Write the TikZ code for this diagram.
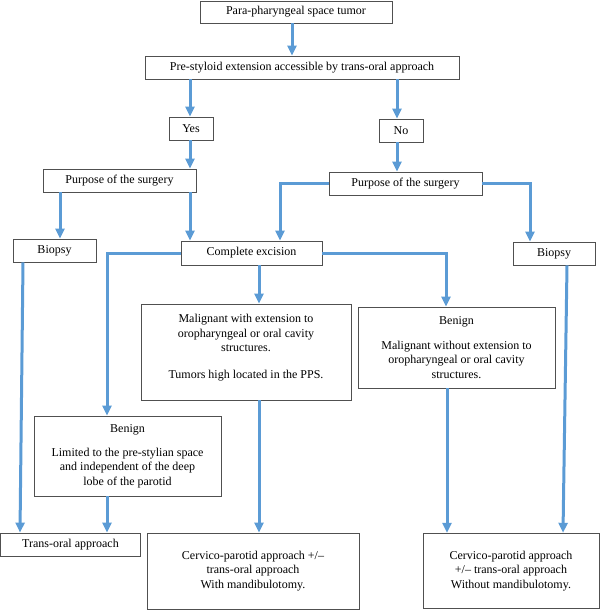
\documentclass[tikz,border=0pt]{standalone}
\usepackage{fontspec}
\setmainfont{Liberation Serif}
\usetikzlibrary{arrows.meta}
\definecolor{flow}{HTML}{5B9BD5}
\definecolor{edge}{HTML}{505050}
\begin{document}
\begin{tikzpicture}[x=1pt,y=-1pt,
  box/.style={draw=edge,line width=0.9pt,inner sep=0pt,align=center,font=\fontsize{12}{14.5}\selectfont},
  arr/.style={draw=flow,line width=3pt,-{Triangle[width=9pt,length=10pt]}}]
\useasboundingbox (0,0) rectangle (600,610);
% nodes
\node[box,minimum width=192pt,minimum height=22pt] (top) at (296,12) {Para-pharyngeal space tumor};
\node[box,minimum width=314pt,minimum height=23pt] (pre) at (302,67.5) {Pre-styloid extension accessible by trans-oral approach};
\node[box,minimum width=44pt,minimum height=23pt] (yes) at (191,128.5) {Yes};
\node[box,minimum width=44pt,minimum height=23pt] (no) at (401,130.5) {No};
\node[box,minimum width=153pt,minimum height=23pt] (p1) at (119.5,180.5) {Purpose of the surgery};
\node[box,minimum width=153pt,minimum height=23pt] (p2) at (405.5,183.5) {Purpose of the surgery};
\node[box,minimum width=83pt,minimum height=23pt] (b1) at (54.5,250.5) {Biopsy};
\node[box,minimum width=141pt,minimum height=24pt] (ce) at (251.5,253) {Complete excision};
\node[box,minimum width=82pt,minimum height=23pt] (b2) at (554,253.5) {Biopsy};
\node[box,minimum width=210pt,minimum height=96pt] (mw) at (246,352) {Malignant with extension to\\ oropharyngeal or oral cavity\\ structures.\\[12.5pt] Tumors high located in the PPS.\\[-4pt]\mbox{}};
\node[box,minimum width=197pt,minimum height=81pt] (br) at (456.5,347.5) {Benign\\[10.5pt] Malignant without extension to\\ oropharyngeal or oral cavity\\ structures.};
\node[box,minimum width=187pt,minimum height=80pt] (bl) at (127.5,456) {Benign\\[9.5pt] Limited to the pre-stylian space\\ and independent of the deep\\ lobe of the parotid};
\node[box,minimum width=140pt,minimum height=23pt] (to) at (70.5,544.5) {Trans-oral approach};
\node[box,minimum width=212pt,minimum height=76pt] (cl) at (253,571) {Cervico-parotid approach +/–\\ trans-oral approach\\ With mandibulotomy.};
\node[box,minimum width=176pt,minimum height=75.5pt] (cr) at (511,571) {Cervico-parotid approach\\ +/– trans-oral approach\\ Without mandibulotomy.};
% connectors
\draw[arr] (292,0 |- top.south) -- (292,0 |- pre.north);
\draw[arr] (190,0 |- pre.south) -- (190,0 |- yes.north);
\draw[arr] (397,0 |- pre.south) -- (397,0 |- no.north);
\draw[arr] (190,0 |- yes.south) -- (190,0 |- p1.north);
\draw[arr] (397,0 |- no.south) -- (397,0 |- p2.north);
\draw[arr] (60,0 |- p1.south) -- (60,0 |- b1.north);
\draw[arr] (190,0 |- p1.south) -- (190,0 |- ce.north);
\draw[arr] (p2.west) -| (280,0 |- ce.north);
\draw[arr] (p2.east) -| (530,0 |- b2.north);
\draw[arr] (ce.west) -| (107,0 |- bl.north);
\draw[arr] (ce.east) -| (446,0 |- br.north);
\draw[arr] (259,0 |- ce.south) -- (259,0 |- mw.north);
\draw[arr] (23,0 |- b1.south) -- (20,0 |- to.north);
\draw[arr] (107,0 |- bl.south) -- (107,0 |- to.north);
\draw[arr] (259,0 |- mw.south) -- (259,0 |- cl.north);
\draw[arr] (447,0 |- br.south) -- (447,0 |- cr.north);
\draw[arr] (567,0 |- b2.south) -- (563,0 |- cr.north);
\end{tikzpicture}
\end{document}
